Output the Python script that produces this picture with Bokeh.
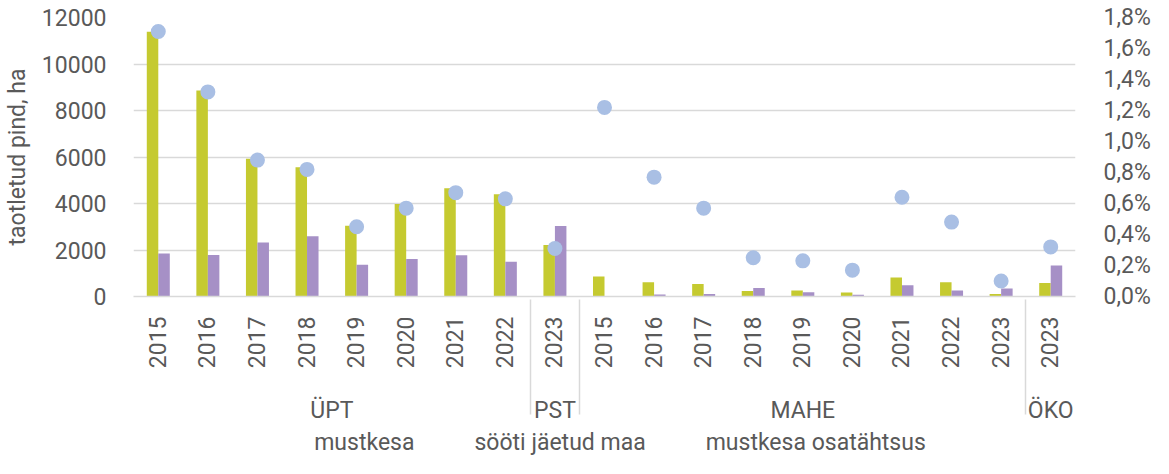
import math
from bokeh.plotting import figure
from bokeh.layouts import column
from bokeh.models import (FactorRange, Range1d, LinearAxis, FixedTicker, CustomJSTickFormatter,
                          Legend, LegendItem, ColumnDataSource)
from bokeh.transform import dodge
from bokeh.embed import file_html
from bokeh.resources import INLINE

groups = ["ÜPT"] * 8 + ["PST"] + ["MAHE"] * 9 + ["ÖKO"]
years = ["2015", "2016", "2017", "2018", "2019", "2020", "2021", "2022",
         "2023",
         "2015", "2016", "2017", "2018", "2019", "2020", "2021", "2022", "2023",
         "2023"]
mustkesa = [11390, 8860, 5920, 5560, 3040, 3980, 4660, 4400,
            2210,
            860, 610, 540, 240, 255, 170, 820, 610, 110,
            580]
sooti_jaetud = [1850, 1780, 2320, 2590, 1370, 1610, 1770, 1500,
                3030,
                0, 85, 110, 370, 185, 70, 480, 255, 340,
                1330]
osatahtsus = [1.71, 1.32, 0.88, 0.82, 0.45, 0.57, 0.67, 0.63,
              0.31,
              1.22, 0.77, 0.57, 0.25, 0.23, 0.17, 0.64, 0.48, 0.10,
              0.32]
left_ticks = [0, 2000, 4000, 6000, 8000, 10000, 12000]
right_ticks = [0.0, 0.2, 0.4, 0.6, 0.8, 1.0, 1.2, 1.4, 1.6, 1.8]
legend_labels = ["mustkesa", "sööti jäetud maa", "mustkesa osatähtsus"]

GREEN = "#C5CA30"
PURPLE = "#A690C6"
BLUE = "#A9BFE4"
TXT = "#595959"
GRID = "#D9D9D9"
FONT = "Roboto"
FS = "23px"

# non-breaking blanks before the rotated year labels leave the gap above the group labels
factors = [(g, "\u00a0\u00a0" + y) for g, y in zip(groups, years)]
src = ColumnDataSource(dict(x=factors, m=mustkesa, s=sooti_jaetud, o=osatahtsus))

p = figure(x_range=FactorRange(*factors, factor_padding=0, group_padding=0, subgroup_padding=0),
           y_range=Range1d(0, 12000), width=1153, height=426,
           output_backend="svg", toolbar_location=None,
           min_border_left=125, min_border_right=70, min_border_top=17, min_border_bottom=125)
p.outline_line_color = None
p.extra_y_ranges = {"pct": Range1d(0, 1.8)}

p.vbar(x=dodge("x", -0.116, range=p.x_range), top="m", width=0.232, source=src,
       fill_color=GREEN, line_color=None)
p.vbar(x=dodge("x", 0.116, range=p.x_range), top="s", width=0.232, source=src,
       fill_color=PURPLE, line_color=None)
p.scatter(x="x", y="o", source=src, y_range_name="pct", size=15,
          fill_color=BLUE, line_color=None)

# left axis
ya = p.yaxis[0]
ya.ticker = FixedTicker(ticks=left_ticks)
ya.axis_line_color = None
ya.major_tick_line_color = None
ya.minor_tick_line_color = None
ya.major_label_text_font = FONT
ya.major_label_text_font_size = FS
ya.major_label_text_color = TXT
ya.major_label_standoff = 21
ya.axis_label = "taotletud pind, ha"
ya.axis_label_text_font = FONT
ya.axis_label_text_font_size = FS
ya.axis_label_text_color = TXT
ya.axis_label_text_font_style = "normal"
ya.axis_label_standoff = 8

# right axis
ra = LinearAxis(y_range_name="pct", ticker=FixedTicker(ticks=right_ticks),
                formatter=CustomJSTickFormatter(code="return tick.toFixed(1).replace('.', ',') + '%';"))
ra.axis_line_color = None
ra.major_tick_line_color = None
ra.minor_tick_line_color = None
ra.major_label_text_font = FONT
ra.major_label_text_font_size = FS
ra.major_label_text_color = TXT
ra.major_label_standoff = 22
p.add_layout(ra, "right")

# grid
p.xgrid.grid_line_color = None
p.ygrid.grid_line_color = GRID
p.ygrid.grid_line_width = 1.5
p.ygrid.ticker = FixedTicker(ticks=left_ticks)

# x axis
xa = p.xaxis[0]
xa.axis_line_color = GRID
xa.axis_line_width = 1.5
xa.major_tick_line_color = None
xa.minor_tick_line_color = None
xa.major_label_orientation = math.pi / 2
xa.major_label_text_font = FONT
xa.major_label_text_font_size = FS
xa.major_label_text_color = TXT
xa.major_label_standoff = 14
xa.group_text_font = FONT
xa.group_text_font_size = FS
xa.group_text_color = TXT
xa.group_text_font_style = "normal"
xa.separator_line_color = GRID
xa.separator_line_width = 1.5

# legend strip below the chart
leg = figure(width=1153, height=32, output_backend="svg", toolbar_location=None,
             x_axis_location=None, y_axis_location=None,
             min_border_left=0, min_border_right=21, min_border_top=0, min_border_bottom=0)
leg.outline_line_color = None
leg.xgrid.visible = False
leg.ygrid.visible = False
empty = ColumnDataSource(dict(x=[], y=[]))
k1 = leg.scatter(x="x", y="y", source=empty, marker="square", fill_color=GREEN, line_color=None)
k2 = leg.scatter(x="x", y="y", source=empty, marker="square", fill_color=PURPLE, line_color=None)
k3 = leg.scatter(x="x", y="y", source=empty, marker="circle", fill_color=BLUE, line_color=None)

legend = Legend(items=[LegendItem(label=legend_labels[0], renderers=[k1]),
                       LegendItem(label=legend_labels[1], renderers=[k2]),
                       LegendItem(label=legend_labels[2], renderers=[k3])],
                orientation="horizontal", location="center",
                border_line_color=None, background_fill_alpha=0,
                label_text_font=FONT, label_text_font_size=FS, label_text_color=TXT,
                glyph_width=32, glyph_height=32, spacing=28, label_standoff=0,
                padding=0, margin=0)
leg.add_layout(legend)

open("out.html", "w").write(file_html(column(p, leg), INLINE))
